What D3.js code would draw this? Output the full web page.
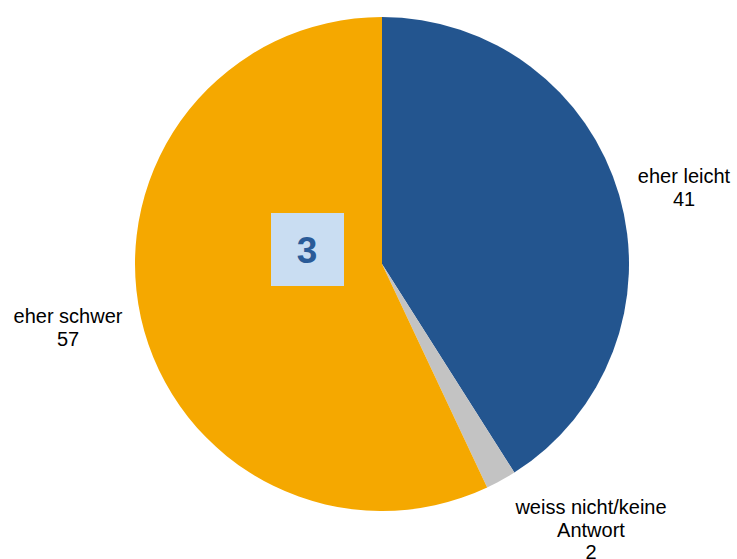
<!DOCTYPE html>
<html>
<head>
<meta charset="utf-8">
<script src="https://cdn.jsdelivr.net/npm/d3@7"></script>
<style>
  html, body { margin: 0; padding: 0; background: #fff; }
  svg { display: block; font-family: "Liberation Sans", Arial, sans-serif; }
</style>
</head>
<body>
<svg id="chart" width="737" height="559"></svg>
<script>
// Answer categories and shares (percent)
const categories = ["eher leicht", "weiss nicht/keine Antwort", "eher schwer"];
const labelLines = [["eher leicht"], ["weiss nicht/keine", "Antwort"], ["eher schwer"]];
const values = [41, 2, 57];
const colors = ["#23558F", "#C3C3C3", "#F5A800"];
const badgeText = "3";

const svg = d3.select("#chart");
const cx = 382, cy = 264, r = 247;

const pie = d3.pie().sort(null).value(d => d.value);
const arcs = pie(categories.map((c, i) => ({ name: c, value: values[i], lines: labelLines[i] })));
const arc = d3.arc().innerRadius(0).outerRadius(r);
const color = d3.scaleOrdinal().domain(categories).range(colors);

const g = svg.append("g").attr("transform", `translate(${cx},${cy})`);
g.selectAll("path").data(arcs).join("path")
  .attr("d", arc)
  .attr("fill", d => color(d.data.name));

// Label anchor points relative to the pie center
const labelPos = [
  { x: 302, y: -81 },
  { x: 209, y: 250 },
  { x: -314, y: 59 }
];
const lineH = 22.5;
arcs.forEach((d, i) => {
  const lines = d.data.lines.concat([String(d.data.value)]);
  const t = g.append("text")
    .attr("text-anchor", "middle")
    .attr("font-size", 20)
    .attr("fill", "#000");
  lines.forEach((ln, k) => {
    t.append("tspan")
      .attr("x", labelPos[i].x)
      .attr("y", labelPos[i].y + k * lineH)
      .text(ln);
  });
});

// Badge with number
svg.append("rect")
  .attr("x", 271).attr("y", 213)
  .attr("width", 73).attr("height", 73)
  .attr("fill", "#C9DDF2");
svg.append("text")
  .attr("x", 307).attr("y", 263)
  .attr("text-anchor", "middle")
  .attr("font-size", 37)
  .attr("font-weight", "bold")
  .attr("fill", "#2A5B98")
  .text(badgeText);
</script>
</body>
</html>
